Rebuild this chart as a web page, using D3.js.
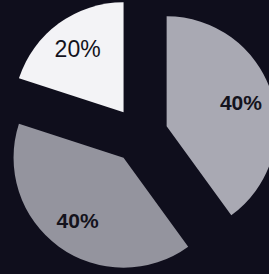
<!DOCTYPE html>
<html>
<head>
<meta charset="utf-8">
<script src="https://cdn.jsdelivr.net/npm/d3@7"></script>
<style>
  html, body { margin: 0; padding: 0; background: #0f0e1c; }
  svg { display: block; }
</style>
</head>
<body>
<div id="chart"></div>
<script>
// chart data
const labels = ["20%", "40%", "40%"];
const values = [20, 40, 40];
const colors = ["#f3f3f6", "#a9a9b3", "#94949e"];

const width = 269, height = 274;
const radius = 110, explode = 28;
const cx = 140, cy = 135;

const svg = d3.select("#chart")
    .append("svg")
    .attr("width", width)
    .attr("height", height);

svg.append("rect")
    .attr("width", width)
    .attr("height", height)
    .attr("fill", "#0f0e1c");

const g = svg.append("g")
    .attr("transform", `translate(${cx},${cy})`);

// first slice begins 20% before 12 o'clock
const pie = d3.pie()
    .sort(null)
    .startAngle(-2 * Math.PI * 0.2)
    .endAngle(2 * Math.PI * 0.8)
    .value(d => d);

const arc = d3.arc().innerRadius(0).outerRadius(radius);
const labelArc = d3.arc().innerRadius(0).outerRadius(radius * 1.42);

const slices = g.selectAll(".slice")
    .data(pie(values))
    .enter().append("g")
    .attr("class", "slice")
    .attr("transform", d => {
        const mid = (d.startAngle + d.endAngle) / 2;
        return `translate(${Math.sin(mid) * explode},${-Math.cos(mid) * explode})`;
    });

slices.append("path")
    .attr("d", arc)
    .attr("fill", (d, i) => colors[i]);

slices.append("text")
    .attr("transform", d => `translate(${labelArc.centroid(d)})`)
    .attr("text-anchor", "middle")
    .attr("dy", "0.35em")
    .attr("font-family", "Liberation Sans, Arial, sans-serif")
    .attr("font-size", (d, i) => i == 0 ? "23px" : "21px")
    .attr("font-weight", (d, i) => i == 0 ? "normal" : "bold")
    .attr("fill", "#14131c")
    .text((d, i) => labels[i]);
</script>
</body>
</html>
